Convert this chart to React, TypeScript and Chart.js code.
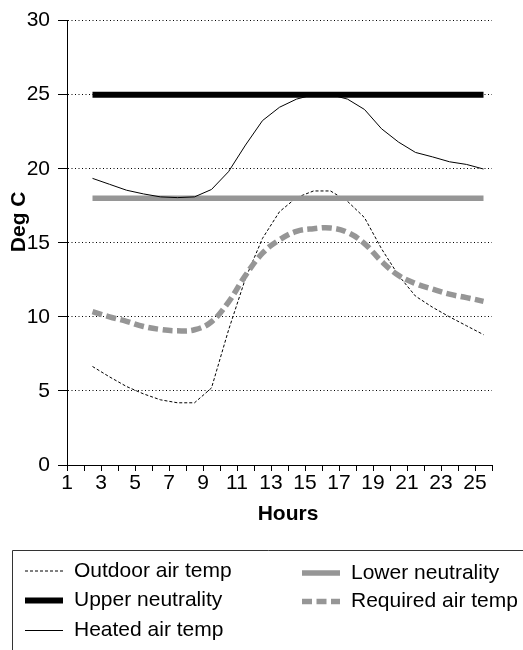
import { useEffect, useRef } from 'react';
import { Chart, registerables } from 'chart.js';

Chart.register(...registerables);

// ---- data ----
const hourLabels = ['1', '2', '3', '4', '5', '6', '7', '8', '9', '10', '11', '12', '13', '14', '15', '16', '17', '18', '19', '20', '21', '22', '23', '24', '25'];
// values for hours 2..25 (hour 1 has no value)
const outdoorAirTemp = [6.65, 5.95, 5.3, 4.8, 4.4, 4.2, 4.2, 5.2, 9.1, 12.6, 15.3, 17.1, 18.05, 18.5, 18.5, 17.8, 16.7, 14.6, 12.8, 11.4, 10.65, 10.0, 9.4, 8.8];
const upperNeutrality = [25, 25, 25, 25, 25, 25, 25, 25, 25, 25, 25, 25, 25, 25, 25, 25, 25, 25, 25, 25, 25, 25, 25, 25];
const heatedAirTemp = [19.35, 18.95, 18.55, 18.3, 18.1, 18.05, 18.1, 18.6, 19.8, 21.6, 23.25, 24.15, 24.7, 25.0, 25.0, 24.7, 24.0, 22.7, 21.8, 21.1, 20.8, 20.47, 20.29, 19.98];
const lowerNeutrality = [18, 18, 18, 18, 18, 18, 18, 18, 18, 18, 18, 18, 18, 18, 18, 18, 18, 18, 18, 18, 18, 18, 18, 18];
const requiredAirTemp = [10.35, 10.0, 9.7, 9.35, 9.15, 9.06, 9.13, 9.67, 11.0, 12.8, 14.3, 15.2, 15.77, 15.95, 16.0, 15.7, 14.95, 13.75, 12.8, 12.25, 11.87, 11.53, 11.3, 11.05];
const yTicks = [0, 5, 10, 15, 20, 25, 30];
const xTitle = 'Hours';
const yTitle = 'Deg C';

const FONT = '"Liberation Sans", Arial, Helvetica, sans-serif';
const GRAY = '#969696';

const withGap = (v: number[]) => [null, ...v];

const overlayPlugin = {
  id: 'overlay',
  afterDraw(chart: any) {
    const ctx = chart.ctx as CanvasRenderingContext2D;
    const area = chart.chartArea;
    ctx.save();
    // axis titles
    ctx.fillStyle = '#000';
    ctx.font = `bold 21px ${FONT}`;
    ctx.textAlign = 'center';
    ctx.textBaseline = 'middle';
    ctx.fillText(xTitle, (area.left + area.right) / 2 + 8.5, area.bottom + 49);
    ctx.save();
    ctx.translate(19.5, (area.top + area.bottom) / 2 - 21);
    ctx.rotate(-Math.PI / 2);
    ctx.fillText(yTitle, 0, 0);
    ctx.restore();

    // legend box
    ctx.strokeStyle = '#333';
    ctx.lineWidth = 1;
    ctx.setLineDash([]);
    ctx.beginPath();
    ctx.moveTo(12.5, 700);
    ctx.lineTo(12.5, 550.5);
    ctx.lineTo(700, 550.5);
    ctx.stroke();

    // legend items: column 1 then column 2
    const slots = [
      { x: 25, y: 571 },
      { x: 25, y: 600.5 },
      { x: 25, y: 630.5 },
      { x: 302, y: 573 },
      { x: 302, y: 601.5 },
    ];
    ctx.font = `21px ${FONT}`;
    ctx.textAlign = 'left';
    chart.data.datasets.forEach((ds: any, i: number) => {
      const s = slots[i];
      if (!s) return;
      ctx.save();
      ctx.strokeStyle = ds.borderColor;
      ctx.lineWidth = ds.borderWidth;
      ctx.lineCap = 'butt';
      ctx.setLineDash(ds.borderDash || []);
      ctx.beginPath();
      ctx.moveTo(s.x, s.y);
      ctx.lineTo(s.x + 38, s.y);
      ctx.stroke();
      ctx.restore();
      ctx.fillStyle = '#000';
      ctx.fillText(ds.label, s.x + 49, s.y);
    });
    ctx.restore();
  },
};

export default function App() {
  const ref = useRef<HTMLCanvasElement | null>(null);
  useEffect(() => {
    if (!ref.current) return;
    const chart = new Chart(ref.current, {
      type: 'line',
      data: {
        labels: hourLabels,
        datasets: [
          { label: 'Outdoor air temp', data: withGap(outdoorAirTemp), borderColor: '#000', borderWidth: 1, borderDash: [3, 2], tension: 0, order: 5 },
          { label: 'Upper neutrality', data: withGap(upperNeutrality), borderColor: '#000', borderWidth: 6, tension: 0, order: 4 },
          { label: 'Heated air temp', data: withGap(heatedAirTemp), borderColor: '#000', borderWidth: 1, tension: 0, order: 0 },
          { label: 'Lower neutrality', data: withGap(lowerNeutrality), borderColor: GRAY, borderWidth: 5.5, tension: 0, order: 2 },
          { label: 'Required air temp', data: withGap(requiredAirTemp), borderColor: GRAY, borderWidth: 5.5, borderDash: [10, 4.5], tension: 0.4, order: 1 },
        ] as any,
      },
      options: {
        animation: false,
        responsive: false,
        devicePixelRatio: 1,
        layout: { padding: { left: 0, right: 31, top: 18, bottom: 123 } },
        elements: { point: { radius: 0 }, line: { borderCapStyle: 'butt', fill: false } },
        plugins: { legend: { display: false }, tooltip: { enabled: false }, title: { display: false } },
        scales: {
          x: {
            type: 'category',
            offset: true,
            grid: { display: true, drawOnChartArea: false, drawTicks: true, tickLength: 6, color: '#000', offset: true },
            border: { display: true, color: '#000', width: 1 },
            ticks: {
              autoSkip: false,
              maxRotation: 0,
              minRotation: 0,
              padding: 0,
              labelOffset: -8.5,
              color: '#000',
              font: { family: FONT, size: 21 },
              callback: function (this: any, value: any, index: number) {
                return index % 2 === 0 ? this.getLabelForValue(value) : '';
              },
            },
            afterFit: (scale: any) => { scale.height = 62; },
          },
          y: {
            min: yTicks[0],
            max: yTicks[yTicks.length - 1],
            grid: { color: '#000', lineWidth: 1, tickLength: 9, drawTicks: true, tickColor: '#000', tickBorderDash: [] },
            border: { display: true, color: '#000', width: 1, dash: [1, 2.5] },
            ticks: {
              stepSize: 5,
              padding: 8,
              color: '#000',
              font: { family: FONT, size: 21 },
            },
            afterBuildTicks: (scale: any) => { scale.ticks = yTicks.map((v) => ({ value: v })); },
            afterFit: (scale: any) => { scale.width = 67; },
          },
        },
      } as any,
      plugins: [overlayPlugin],
    });
    return () => chart.destroy();
  }, []);
  return (
    <div style={{ position: 'fixed', left: 0, top: 0, width: 523, height: 650, background: '#fff', overflow: 'hidden' }}>
      <canvas ref={ref} width={523} height={650} style={{ display: 'block' }} />
    </div>
  );
}
